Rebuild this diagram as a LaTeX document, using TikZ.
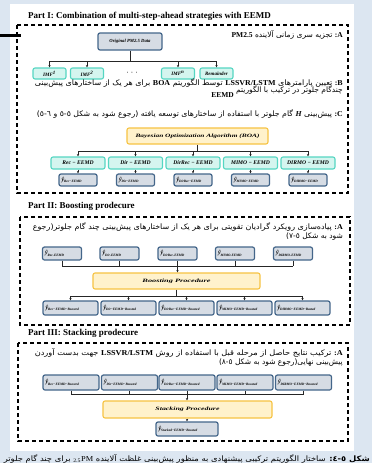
\documentclass[tikz,border=0pt]{standalone}
\usepackage{fontspec}
\usepackage{graphicx}
\setmainfont{Liberation Serif}
\newfontfamily\fa[Script=Arabic]{DejaVu Sans}
\TeXXeTstate=1
\usetikzlibrary{arrows.meta}

\definecolor{pagebg}{HTML}{DCE6F1}
\definecolor{grayfill}{HTML}{D6DCE4}
\definecolor{grayline}{HTML}{44668A}
\definecolor{tealfill}{HTML}{D5F5EF}
\definecolor{tealline}{HTML}{55D6C2}
\definecolor{yelfill}{HTML}{FFF2CC}
\definecolor{yelline}{HTML}{F6C343}

% Latin words inside the Persian lines
\newcommand\lat[1]{{\rmfamily\bfseries #1}}
% predicted-series label: y-hat with a small subscript
\newcommand\yh[1]{{\fontsize{6}{6}\selectfont ŷ}\raisebox{-1.2pt}{\fontsize{3.4}{3.4}\selectfont\bfseries\itshape #1}}

\tikzset{
  parttitle/.style={inner sep=0pt, font=\fontsize{9}{10}\selectfont\bfseries},
  frame/.style={dash pattern=on 4pt off 3pt, line width=1.2pt},
  fatext/.style={inner sep=0pt, font=\fa\fontsize{7.5}{8}\selectfont},
  boxbase/.style={rounded corners=2pt, inner sep=0pt, font=\fontsize{5}{6}\selectfont\bfseries\itshape},
  graybox/.style={boxbase, draw=grayline, fill=grayfill, line width=1.2pt},
  ybox/.style={graybox, inner xsep=2.5pt, text width=#1, align=left},
  tealbox/.style={boxbase, draw=tealline, fill=tealfill, line width=1.1pt},
  stratbox/.style={tealbox, minimum width=54pt, minimum height=12pt, font=\fontsize{5.6}{6}\selectfont\bfseries\itshape},
  yelbox/.style={boxbase, draw=yelline, fill=yelfill, line width=1.1pt},
  conn/.style={line width=0.5pt, draw=black!85},
  arr/.style={conn, -{Stealth[length=2.4pt,width=2.2pt]}},
}

\begin{document}
\begin{tikzpicture}[x=1pt,y=-1pt]
\useasboundingbox (0,0) rectangle (372,463);
\fill[pagebg] (0,0) rectangle (372,463);
\fill[white] (10,4) rectangle (354,451);
\draw[line width=3pt] (0,35) -- (21,35);

% ---------------- Part I ----------------
\node[parttitle, anchor=base west] (t1) at (28,19) {Part I: Combination of multi-step-ahead strategies with EEMD};
\draw[frame] (17,25) rectangle (348,193);

\node[fatext, anchor=base east] (pa) at (343,37.5)
  {\beginR\lat{A\kern0pt:} تجزیه سری زمانی آلاینده \lat{PM2.5}\endR};

\node[graybox, minimum width=64pt, minimum height=17pt, font=\fontsize{4.7}{5}\selectfont\bfseries\itshape] (orig) at (130,41.5) {Original PM2.5 Data};
\node[tealbox, minimum width=33pt, minimum height=11pt] (imf1) at (49.5,73.5) {IMF\textsuperscript{1}};
\node[tealbox, minimum width=33pt, minimum height=11pt] (imf2) at (87,73.5) {IMF\textsuperscript{2}};
\node[inner sep=0pt, font=\fontsize{5.5}{5.5}\selectfont\bfseries] (dots) at (132,73.5) {·\ \ ·\ \ ·};
\node[tealbox, minimum width=33pt, minimum height=11pt] (imfn) at (178,73.5) {IMF\textsuperscript{n}};
\node[tealbox, minimum width=33pt, minimum height=11pt] (rem) at (216.5,73.5) {Remainder};

\coordinate (bus0) at (130,61);
\draw[conn] (orig.south) -- (bus0);
\draw[conn] (imf1.north |- bus0) -- (rem.north |- bus0);
\foreach \n in {imf1,imf2,imfn,rem} \draw[arr] (\n.north |- bus0) -- (\n.north);

\node[fatext, anchor=base east] (pb1) at (343,85)
  {\resizebox{308pt}{\height}{\beginR\lat{B\kern0pt:} تعیین پارامترهای \lat{LSSVR/LSTM} توسط الگوریتم \lat{BOA} برای هر یک از ساختارهای پیش‌بینی\endR}};
\node[fatext, anchor=base east] (pb2) at (343,92)
  {\beginR چندگام جلوتر در ترکیب با الگوریتم \raisebox{-5pt}{\lat{EEMD}}\endR};
\node[fatext, anchor=base east] (pc) at (343,116)
  {\resizebox{306pt}{\height}{\beginR\lat{C\kern0pt:} پیش‌بینی \lat{\itshape H} گام جلوتر با استفاده از ساختارهای توسعه یافته (رجوع شود به شکل ٥-٥ و ٦-٥)\endR}};

\node[yelbox, minimum width=141pt, minimum height=16pt] (boa) at (197.5,136) {\resizebox{124pt}{\height}{Bayesian Optimization Algorithm (BOA)}};

\node[stratbox] (s1) at (78,163) {Rec − EEMD};
\node[stratbox] (s2) at (135.5,163) {Dir − EEMD};
\node[stratbox] (s3) at (193,163) {DirRec − EEMD};
\node[stratbox] (s4) at (250.5,163) {MIMO − EEMD};
\node[stratbox] (s5) at (308,163) {DIRMO − EEMD};

\node[ybox=33pt, minimum height=12pt] (y1) at (78,180) {\yh{Rec−EEMD}};
\node[ybox=33pt, minimum height=12pt] (y2) at (135.5,180) {\yh{Dir−EEMD}};
\node[ybox=33pt, minimum height=12pt] (y3) at (193,180) {\yh{DirRec−EEMD}};
\node[ybox=33pt, minimum height=12pt] (y4) at (250.5,180) {\yh{MIMO−EEMD}};
\node[ybox=33pt, minimum height=12pt] (y5) at (308,180) {\yh{DIRMO−EEMD}};

\coordinate (bus1) at (197.5,151);
\draw[conn] (boa.south) -- (bus1);
\draw[conn] (s1.north |- bus1) -- (s5.north |- bus1);
\foreach \i in {1,...,5} {
  \draw[arr] (s\i.north |- bus1) -- (s\i.north);
  \draw[arr] (s\i.south) -- (y\i.north);
}

% ---------------- Part II ----------------
\node[parttitle, anchor=base west] (t2) at (28,208) {Part II: Boosting prodecure};
\draw[frame] (20,217) rectangle (350,325);

\node[fatext, anchor=base east] (q1) at (343,229)
  {\resizebox{310pt}{\height}{\beginR\lat{A\kern0pt:} پیاده‌سازی رویکرد گرادیان تقویتی برای هر یک از ساختارهای پیش‌بینی چند گام جلوتر(رجوع\endR}};
\node[fatext, anchor=base east] (q2) at (343,238)
  {\beginR شود به شکل ٥-٧)\endR};

\node[ybox=34pt, minimum height=13pt] (u1) at (62,253.5) {\yh{Rec-EEMD}};
\node[ybox=34pt, minimum height=13pt] (u2) at (119.5,253.5) {\yh{Dir-EEMD}};
\node[ybox=34pt, minimum height=13pt] (u3) at (177.5,253.5) {\yh{DirRec-EEMD}};
\node[ybox=34pt, minimum height=13pt] (u4) at (235,253.5) {\yh{MIMO-EEMD}};
\node[ybox=34pt, minimum height=13pt] (u5) at (293,253.5) {\yh{DIRMO-EEMD}};

\node[yelbox, minimum width=167pt, minimum height=16pt] (boost) at (176.5,281) {\resizebox{68pt}{\height}{Boosting Procedure}};

\node[ybox=50pt, minimum height=14pt] (b1) at (70.5,308) {\yh{Rec−EEMD−Boosted}};
\node[ybox=50pt, minimum height=14pt] (b2) at (128.5,308) {\yh{Dir−EEMD−Boosted}};
\node[ybox=50pt, minimum height=14pt] (b3) at (186.5,308) {\yh{DirRec−EEMD−Boosted}};
\node[ybox=50pt, minimum height=14pt] (b4) at (244.5,308) {\yh{MIMO−EEMD−Boosted}};
\node[ybox=50pt, minimum height=14pt] (b5) at (302.5,308) {\yh{DIRMO−EEMD−Basted}};

\coordinate (bus2) at (177.5,266);
\draw[conn] (u1.south |- bus2) -- (u5.south |- bus2);
\foreach \i in {1,2,4,5} \draw[conn] (u\i.south) -- (u\i.south |- bus2);
\draw[arr] (u3.south) -- (u3.south |- boost.north);
\coordinate (bus3) at (176.5,296);
\draw[conn] (boost.south) -- (bus3);
\draw[conn] (b1.north |- bus3) -- (b5.north |- bus3);
\foreach \i in {1,...,5} \draw[arr] (b\i.north |- bus3) -- (b\i.north);

% ---------------- Part III ----------------
\node[parttitle, anchor=base west] (t3) at (28,335) {Part III: Stacking prodecure};
\draw[frame] (18,343) rectangle (348,441);

\node[fatext, anchor=base east] (r1) at (343,355)
  {\resizebox{308pt}{\height}{\beginR\lat{A\kern0pt:} ترکیب نتایج حاصل از مرحله قبل با استفاده از روش \lat{LSSVR/LSTM} جهت بدست آوردن\endR}};
\node[fatext, anchor=base east] (r2) at (343,364)
  {\beginR پیش‌بینی نهایی(رجوع شود به شکل ٥-٨)\endR};

\node[ybox=51pt, minimum height=15pt] (c1) at (71,382.5) {\yh{Rec−EEMD−Boosted}};
\node[ybox=51pt, minimum height=15pt] (c2) at (129.5,382.5) {\yh{Dir−EEMD−Boosted}};
\node[ybox=51pt, minimum height=15pt] (c3) at (187,382.5) {\yh{DirRec−EEMD−Boosted}};
\node[ybox=51pt, minimum height=15pt] (c4) at (245,382.5) {\yh{MIMO−EEMD−Boosted}};
\node[ybox=51pt, minimum height=15pt] (c5) at (303.5,382.5) {\yh{DIRMO−EEMD−Boosted}};

\node[yelbox, minimum width=169pt, minimum height=17pt] (stack) at (187.5,409.5) {\resizebox{64pt}{\height}{Stacking Procedure}};
\node[ybox=57pt, minimum height=14pt] (fin) at (187,429) {\yh{Stacked−EEMD−Boosted}};

\coordinate (bus4) at (187,394);
\draw[conn] (c1.south |- bus4) -- (c5.south |- bus4);
\foreach \i in {1,2,4,5} \draw[conn] (c\i.south) -- (c\i.south |- bus4);
\draw[arr] (c3.south) -- (c3.south |- stack.north);
\draw[arr] (stack.south -| fin.north) -- (fin.north);

% ---------------- caption ----------------
\node[fatext, font=\fa\fontsize{7.5}{8}\selectfont, anchor=base east] (cap) at (370,461)
  {\resizebox{366pt}{\height}{\beginR\textbf{شکل ٥-٤:} ساختار الگوریتم ترکیبی پیشنهادی به منظور پیش‌بینی غلظت آلاینده {\rmfamily PM\textsubscript{2.5}} برای چند گام جلوتر\endR}};
\end{tikzpicture}
\end{document}
